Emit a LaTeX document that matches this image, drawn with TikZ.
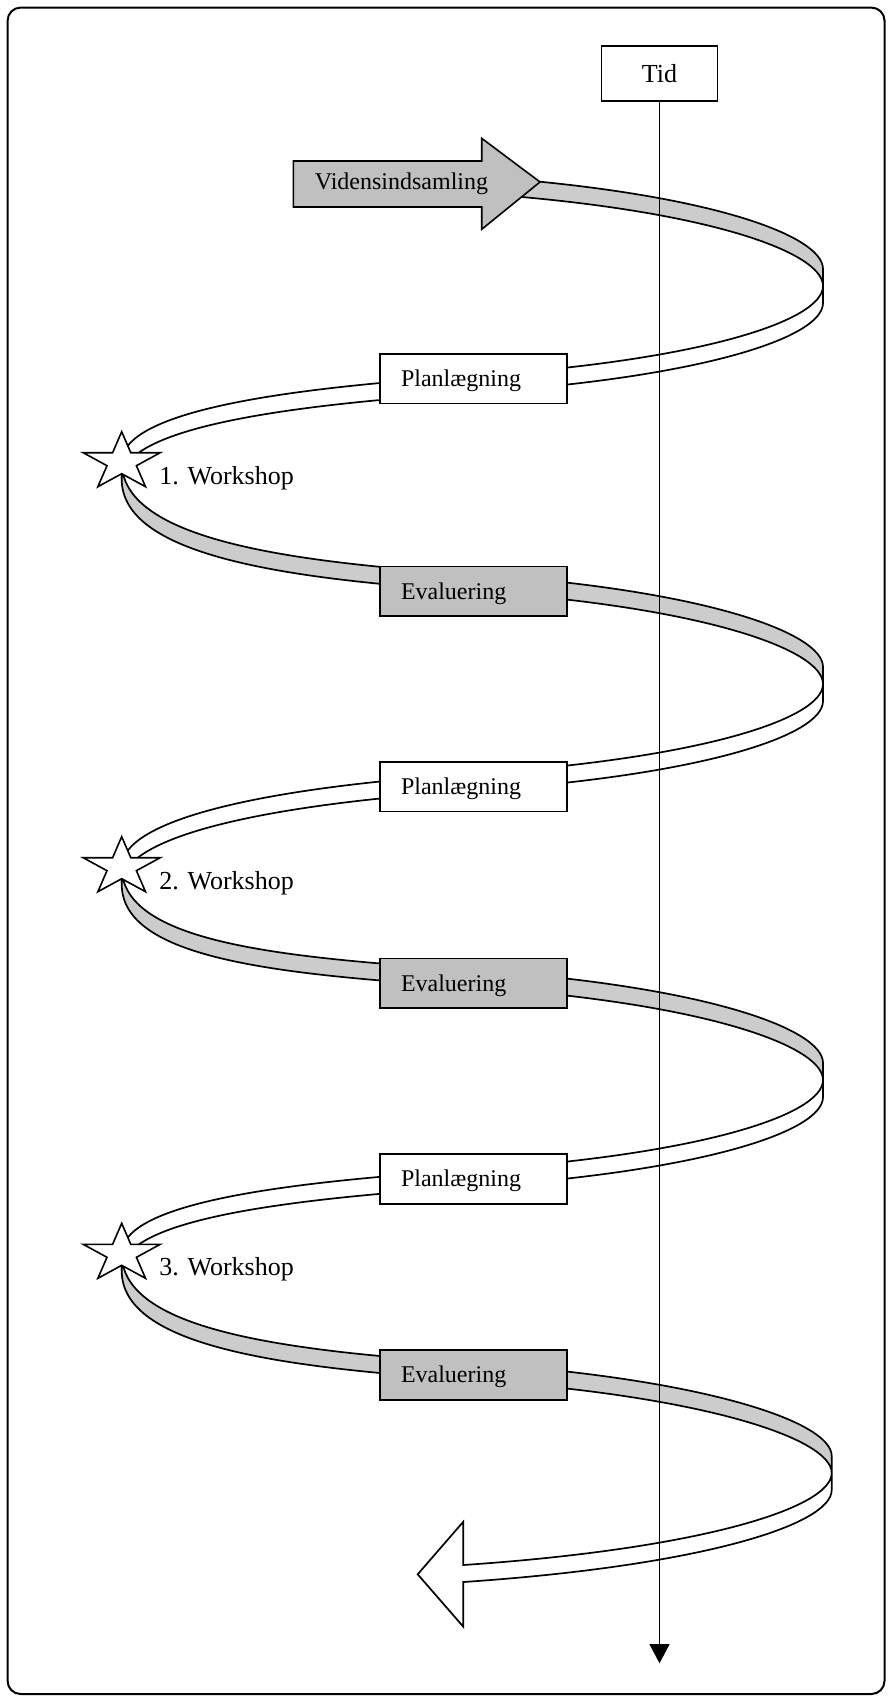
\documentclass[tikz,border=0pt]{standalone}
\usepackage{fontspec}
\setmainfont{Liberation Serif}
\usetikzlibrary{arrows.meta}

\definecolor{ribbongray}{RGB}{204,204,204}
\definecolor{boxgray}{RGB}{192,192,192}

\tikzset{
  outline/.style={draw=black, line width=0.8pt, line join=miter},
  bandline/.style={draw=black, line width=0.85pt, line join=miter, miter limit=4},
  stagebox/.style={outline, rectangle, minimum width=93.35pt, minimum height=24.75pt,
    inner xsep=10.5pt, inner ysep=0pt, text width=72.35pt, align=left,
    text height=7.9pt, text depth=0pt, font=\fontsize{12}{14}\selectfont},
  planbox/.style={stagebox, fill=white},
  evalbox/.style={stagebox, fill=boxgray},
  timebox/.style={outline, fill=white, rectangle, minimum width=58.15pt, minimum height=27.5pt,
    inner sep=0pt, text height=8.6pt, text depth=0pt, font=\fontsize{13}{15}\selectfont},
  wslabel/.style={anchor=base west, inner sep=0pt, font=\fontsize{13}{15}\selectfont},
  axisline/.style={draw=black, line width=0.8pt, -{Triangle[length=9.65pt, width=10pt]}}
}

% ribbon piece along two cubic pieces; #2..#8 are the points of its upper edge
\newcommand\ribbonband[8]{%
  \filldraw[bandline, fill=#1]
    (#2) .. controls (#3) and (#4) .. (#5) .. controls (#6) and (#7) .. (#8)
    -- ([yshift=-8.5pt]#8) .. controls ([yshift=-8.5pt]#7) and ([yshift=-8.5pt]#6) .. ([yshift=-8.5pt]#5)
    .. controls ([yshift=-8.5pt]#4) and ([yshift=-8.5pt]#3) .. ([yshift=-8.5pt]#2) -- cycle;}

% ribbon piece along one cubic piece
\newcommand\ribbonshort[5]{%
  \filldraw[bandline, fill=#1]
    (#2) .. controls (#3) and (#4) .. (#5)
    -- ([yshift=-8.5pt]#5) .. controls ([yshift=-8.5pt]#4) and ([yshift=-8.5pt]#3) .. ([yshift=-8.5pt]#2) -- cycle;}

% five-pointed workshop star, widened
\newcommand\workstar[1]{%
  \begin{scope}[shift={(#1)}, xscale=40.5, yscale=-30.4]
    \filldraw[outline, fill=white] (90:1) -- (126:0.382) -- (162:1) -- (198:0.382) -- (234:1)
      -- (270:0.382) -- (306:1) -- (342:0.382) -- (18:1) -- (54:0.382) -- cycle;
  \end{scope}}

\begin{document}
\begin{tikzpicture}[x=0.5pt, y=-0.5pt]
  \useasboundingbox (0,0) rectangle (891,1702);
  \fill[white] (0,0) rectangle (891,1702);
  \draw[line width=1pt, rounded corners=6.5pt] (7.6,7.6) rectangle (884.5,1694);

  % back halves of the spiral
  \ribbonband{white}{823,286}{823,321}{700,361}{470,376}{278,388.5}{121.7,412.1}{121.7,462.1}
  \ribbonband{white}{823,684}{823,719}{700,759}{470,774}{278,786.5}{121.7,817.1}{121.7,867.1}
  \ribbonband{white}{823,1080}{823,1115}{700,1155}{470,1170}{278,1182.5}{121.7,1203.7}{121.7,1253.7}
  \filldraw[bandline, fill=white]
    (831.7,1473) .. controls (831.7,1508) and (700,1549) .. (463.3,1565)
    -- (463.3,1521.7) -- (417.7,1574.3) -- (463.3,1626.7) -- (463.3,1582)
    .. controls (700,1566) and (831.7,1525) .. (831.7,1490) -- cycle;

  % front halves of the spiral
  \ribbonshort{ribbongray}{470,176}{700,191}{823,234}{823,269}
  \ribbonband{ribbongray}{121.7,462.1}{121.7,537.1}{278,561.5}{470,574}{700,589}{823,632}{823,667}
  \ribbonband{ribbongray}{121.7,867.1}{121.7,942.1}{278,957.5}{470,970}{700,985}{823,1028}{823,1063}
  \ribbonband{ribbongray}{121.7,1253.7}{121.7,1328.7}{278,1350.5}{470,1363}{700,1378}{831.7,1421}{831.7,1456}

  % time axis
  \node[timebox] (tid) at (659.5,73.5) {Tid};
  \coordinate (axisend) at (659.5,1663.3);
  \draw[axisline] (tid.south) -- (axisend);

  % start arrow
  \filldraw[outline, fill=boxgray] (293.3,161) -- (481.7,161) -- (481.7,138.3) -- (540,182)
    -- (481.7,229.3) -- (481.7,207) -- (293.3,207) -- cycle;
  \node[anchor=base west, inner sep=0pt, font=\fontsize{12}{14}\selectfont] (vid) at (314.5,190) {Vidensindsamling};

  % stage boxes
  \node[planbox] (plan1) at (473.35,378.65) {Planlægning};
  \node[evalbox] (eval1) at (473.35,591.35) {Evaluering};
  \node[planbox] (plan2) at (473.35,786.85) {Planlægning};
  \node[evalbox] (eval2) at (473.35,983.3) {Evaluering};
  \node[planbox] (plan3) at (473.35,1179) {Planlægning};
  \node[evalbox] (eval3) at (473.35,1375) {Evaluering};

  % workshops
  \coordinate (star1) at (121.7,462.1);
  \coordinate (star2) at (121.7,867.1);
  \coordinate (star3) at (121.7,1253.7);
  \workstar{star1}
  \workstar{star2}
  \workstar{star3}
  \node[wslabel] (ws1) at (159,484.5) {1. Workshop};
  \node[wslabel] (ws2) at (159,889) {2. Workshop};
  \node[wslabel] (ws3) at (159,1275.5) {3. Workshop};
\end{tikzpicture}
\end{document}
